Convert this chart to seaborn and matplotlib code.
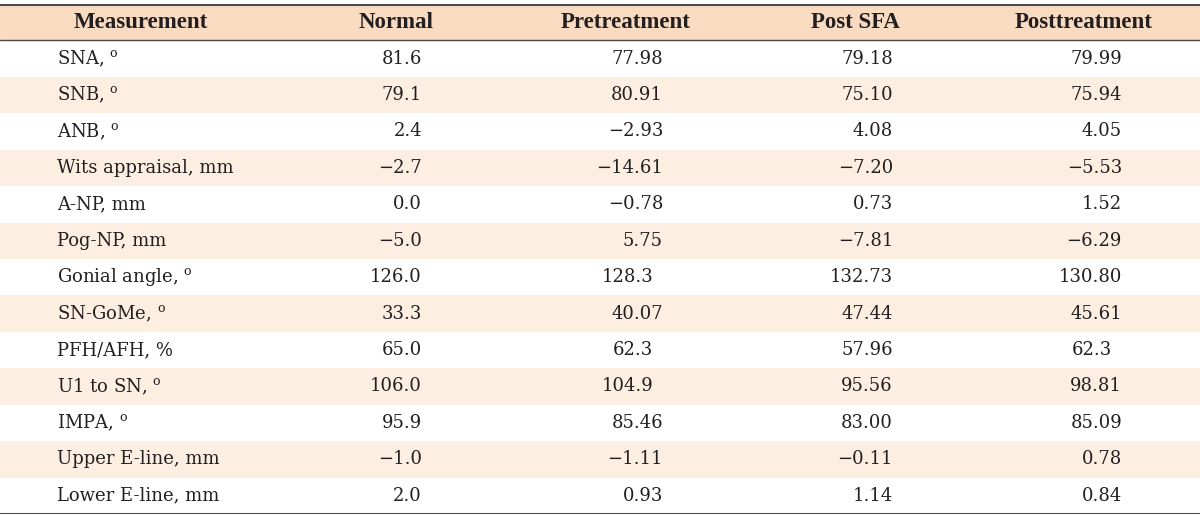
import numpy as np
import pandas as pd
import matplotlib
matplotlib.use("Agg")
import matplotlib.pyplot as plt
from matplotlib.colors import ListedColormap
import seaborn as sns

# Table content
columns = ["Measurement", "Normal", "Pretreatment", "Post SFA", "Posttreatment"]
measurements = ["SNA, $^\\mathregular{o}$", "SNB, $^\\mathregular{o}$", "ANB, $^\\mathregular{o}$",
                "Wits appraisal, mm", "A-NP, mm", "Pog-NP, mm",
                "Gonial angle, $^\\mathregular{o}$", "SN-GoMe, $^\\mathregular{o}$", "PFH/AFH, %",
                "U1 to SN, $^\\mathregular{o}$", "IMPA, $^\\mathregular{o}$",
                "Upper E-line, mm", "Lower E-line, mm"]
normal = ["81.6", "79.1", "2.4", "\u22122.7", "0.0", "\u22125.0", "126.0", "33.3", "65.0",
          "106.0", "95.9", "\u22121.0", "2.0"]
pretreatment = ["77.98", "80.91", "\u22122.93", "\u221214.61", "\u22120.78", "5.75", "128.3",
                "40.07", "62.3", "104.9", "85.46", "\u22121.11", "0.93"]
post_sfa = ["79.18", "75.10", "4.08", "\u22127.20", "0.73", "\u22127.81", "132.73", "47.44",
            "57.96", "95.56", "83.00", "\u22120.11", "1.14"]
posttreatment = ["79.99", "75.94", "4.05", "\u22125.53", "1.52", "\u22126.29", "130.80", "45.61",
                 "62.3", "98.81", "85.09", "0.78", "0.84"]

sns.set_theme(style="white")
plt.rcParams["font.family"] = ["DejaVu Serif"]
plt.rcParams["mathtext.fontset"] = "dejavuserif"

W, H = 1200, 518
fig = plt.figure(figsize=(W / 100, H / 100), dpi=100)
ax = fig.add_axes([0, 4 / H, 1, (H - 8) / H])

# Background: header row, then alternating white / peach stripes
n = len(measurements)
shade = pd.DataFrame({"bg": [2] + [i % 2 for i in range(n)]})
cmap = ListedColormap(["#ffffff", "#fdeee2", "#f9dbc2"])
sns.heatmap(shade, ax=ax, cmap=cmap, vmin=-0.5, vmax=2.5, cbar=False,
            xticklabels=False, yticklabels=False)
ax.set_xlim(0, 1)
ax.set_ylim(n + 1, 0)

# Rules
ax.axhline(0, color="#4a4a4a", lw=2.2)
ax.axhline(1, color="#4a4a4a", lw=1.0)
ax.axhline(n + 1, color="#4a4a4a", lw=2.2)

txt = "#231f20"
fs = 13
# column header centers and value right edges (pixels)
head_x = [141, 396, 626, 855, 1084]
right_x = [None, 422, 663, 893, 1122]
digit_w = 10

for j, c in enumerate(columns):
    ax.text(head_x[j] / W, 0.52, c, ha="center", va="center", fontsize=16.5,
            fontweight="bold", color=txt, fontfamily="Liberation Serif")

values = [normal, pretreatment, post_sfa, posttreatment]
for i in range(n):
    y = i + 1.5
    ax.text(57 / W, y, measurements[i], ha="left", va="center", fontsize=fs, color=txt)
    for k, col in enumerate(values):
        v = col[i]
        x = right_x[k + 1]
        # decimal alignment for the treatment columns
        if k > 0 and len(v.split(".")[1]) == 1:
            x -= digit_w
        ax.text(x / W, y, v, ha="right", va="center", fontsize=fs, color=txt)

ax.axis("off")
fig.savefig("out.png", dpi=100)
